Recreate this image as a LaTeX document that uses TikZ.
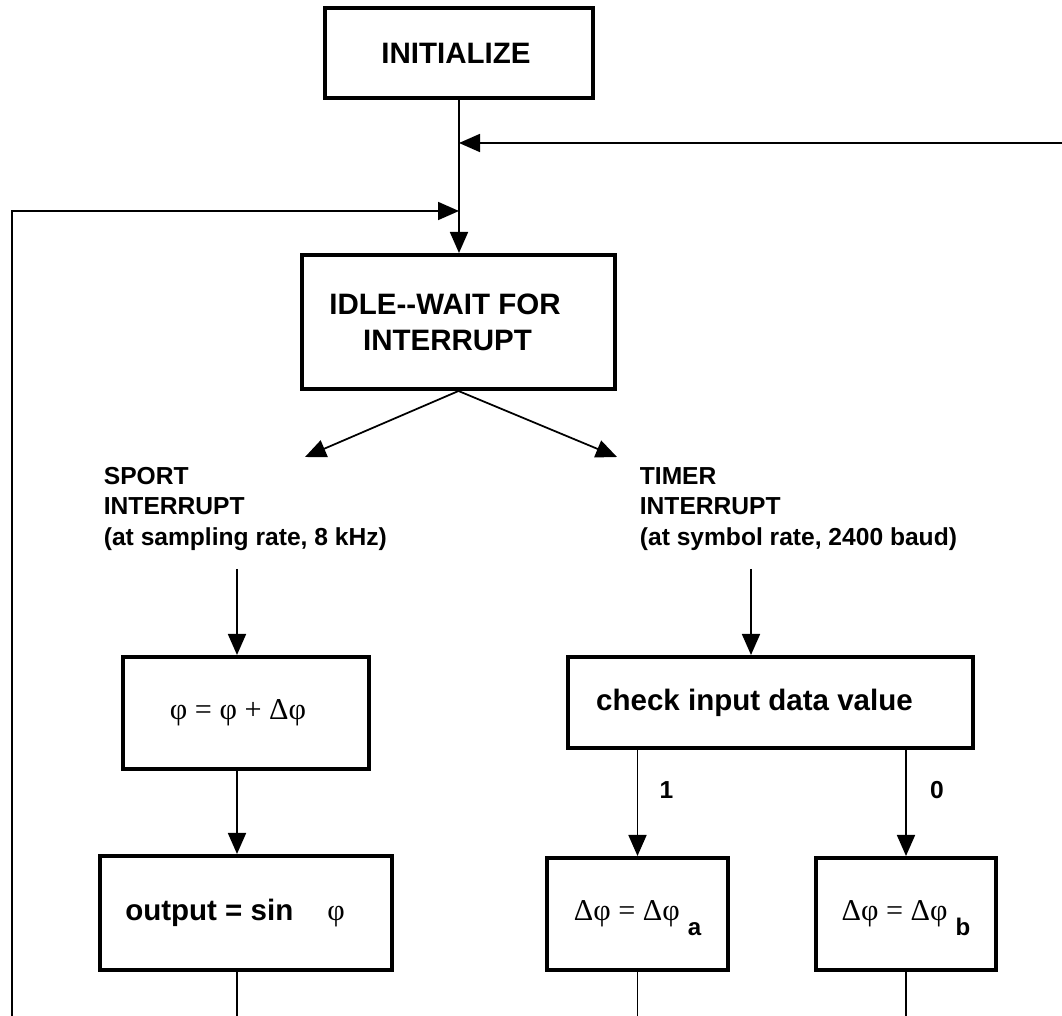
\documentclass[tikz,border=0pt]{standalone}
\usepackage{fontspec}
\setmainfont{Liberation Sans}
\newfontfamily\grk{Liberation Serif}
\usetikzlibrary{arrows.meta,positioning}
\newcommand{\gr}[1]{{\grk\mdseries\fontsize{17.2}{20}\selectfont #1}}

\begin{document}
\begin{tikzpicture}[x=0.02cm, y=-0.02cm, line width=1pt,
        >={Triangle[length=0.42cm,width=0.36cm]},
        box/.style={draw, line width=2.3pt, inner sep=0pt, font=\fontsize{16.8}{20.5}\selectfont\bfseries},
        note/.style={align=left, inner sep=0pt, font=\fontsize{14}{17.4}\selectfont\bfseries}]
    \useasboundingbox (0,0) rectangle (1062,1016);
    \node[box, minimum width=5.36cm, minimum height=1.8cm] (init) at (459,53) {INITIALIZE\kern0.12cm};
    \node[box, minimum width=6.26cm, minimum height=2.68cm, align=center] (idle) at (458.5,322) {IDLE-{}-WAIT FOR\kern0.54cm\\INTERRUPT\kern0.44cm};
    \node[note, anchor=west] (sport) at (103,509) {SPORT\\INTERRUPT\\(at sampling rate, 8 kHz)};
    \node[note, anchor=west] (timer) at (639,509) {TIMER\\INTERRUPT\\(at symbol rate, 2400 baud)};
    \node[box, minimum width=4.94cm, minimum height=2.24cm] (phi) at (246,713) {\gr{φ = φ + Δφ}\kern0.32cm};
    \node[box, minimum width=5.84cm, minimum height=2.28cm] (out) at (246,913) {output = sin\hspace{0.68cm}\gr{φ}\kern0.44cm};
    \node[box, minimum width=8.1cm, minimum height=1.82cm] (chk) at (770.5,702.5) {check input data value\kern0.64cm};
    \node[box, minimum width=3.62cm, minimum height=2.24cm] (da) at (637.5,914) {\gr{Δφ = Δφ}\hspace{0.16cm}\raisebox{-0.3cm}[0pt][0pt]{\fontsize{13.7}{16}\selectfont a}};
    \node[box, minimum width=3.6cm, minimum height=2.24cm] (db) at (906,914) {\gr{Δφ = Δφ}\hspace{0.16cm}\raisebox{-0.3cm}[0pt][0pt]{\fontsize{13.7}{16}\selectfont b}};
    \coordinate (rin) at (1062,143);
    \coordinate (ljoin) at (459,211);
    \coordinate (lbot) at (12,1016);
    \coordinate (tipL) at (305,457);
    \coordinate (tipR) at (617,457);
    \coordinate (sportarr) at (237,569);
    \coordinate (timerarr) at (751,569);
    \draw[->] (init.south) -- (init.south |- idle.north);
    \draw[->] (rin) -- (rin -| init.south);
    \draw[->] (lbot) |- (ljoin);
    \draw[->] (idle.south) -- (tipL);
    \draw[->] (idle.south) -- (tipR);
    \draw[->] (sportarr) -- (sportarr |- phi.north);
    \draw[->] (sportarr |- phi.south) -- (sportarr |- out.north);
    \draw (sportarr |- out.south) -- (sportarr |- lbot);
    \draw[->] (timerarr) -- (timerarr |- chk.north);
    \draw[->] (da.north |- chk.south) -- node[note, pos=0.375, xshift=0.58cm] (one) {1} (da.north);
    \draw[->] (db.north |- chk.south) -- node[note, pos=0.375, xshift=0.62cm] (zero) {0} (db.north);
    \draw (da.south) -- (da.south |- lbot);
    \draw (db.south) -- (db.south |- lbot);
\end{tikzpicture}
\end{document}
